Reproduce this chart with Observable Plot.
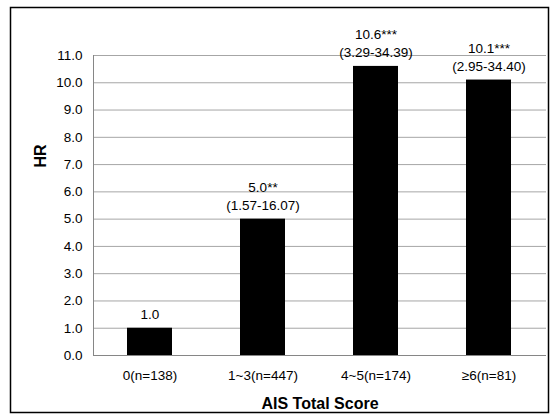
<!DOCTYPE html>
<html>
<head>
<meta charset="utf-8">
<script src="https://cdn.jsdelivr.net/npm/d3@7"></script>
<script src="https://cdn.jsdelivr.net/npm/@observablehq/plot@0.6"></script>
<style>
  html, body { margin: 0; padding: 0; background: #fff; }
  #chart { position: relative; width: 555px; height: 416px; }
</style>
</head>
<body>
<div id="chart"></div>
<script>
const groups = ["0(n=138)", "1~3(n=447)", "4~5(n=174)", "≥6(n=81)"];
const hr = [1.0, 5.0, 10.6, 10.1];
const stars = ["", "**", "***", "***"];
const ci = ["", "(1.57-16.07)", "(3.29-34.39)", "(2.95-34.40)"];
const yTicks = [0, 1, 2, 3, 4, 5, 6, 7, 8, 9, 10, 11];
const yTitle = "HR";
const xTitle = "AIS Total Score";

const data = groups.map((g, i) => ({
  group: g,
  hr: hr[i],
  label: hr[i].toFixed(1) + stars[i] + (ci[i] ? "\n" + ci[i] : "")
}));

const chart = Plot.plot({
  width: 555,
  height: 416,
  marginLeft: 93,
  marginRight: 9,
  marginTop: 55,
  marginBottom: 61,
  style: {fontFamily: "'Liberation Sans', Arial, sans-serif", fontSize: "13.5px", color: "#000", background: "#fff"},
  x: {domain: groups, paddingInner: 0.6, paddingOuter: 0.3, label: null},
  y: {domain: [0, 11], label: null},
  marks: [
    Plot.gridY(yTicks, {stroke: "#a6a6a6", strokeOpacity: 1}),
    Plot.frame({anchor: "left", stroke: "#868686"}),
    Plot.axisY(yTicks, {tickSize: 0, tickPadding: 11, tickFormat: d => d.toFixed(1), fontSize: 13.5}),
    Plot.axisX({tickSize: 0, tickPadding: 15, fontSize: 13.5}),
    Plot.barY(data, {x: "group", y: "hr", fill: "#000"}),
    Plot.ruleY([0], {stroke: "#868686"}),
    Plot.text(data, {x: "group", y: "hr", text: "label", lineAnchor: "bottom", dy: -9, lineHeight: 1.35, fontSize: 13.5, fill: "#000"}),
    Plot.text([yTitle], {frameAnchor: "left", dx: -53, dy: -38, rotate: -90, fontWeight: "bold", fontSize: 16, fill: "#000"}),
    Plot.text([xTitle], {frameAnchor: "bottom", dy: 53, fontWeight: "bold", fontSize: 16, fill: "#000"})
  ]
});

d3.select(chart).append("rect")
  .attr("x", 10.5).attr("y", 7.5)
  .attr("width", 538).attr("height", 405)
  .attr("fill", "none").attr("stroke", "#000").attr("stroke-width", 1.5);

document.getElementById("chart").appendChild(chart);
</script>
</body>
</html>
